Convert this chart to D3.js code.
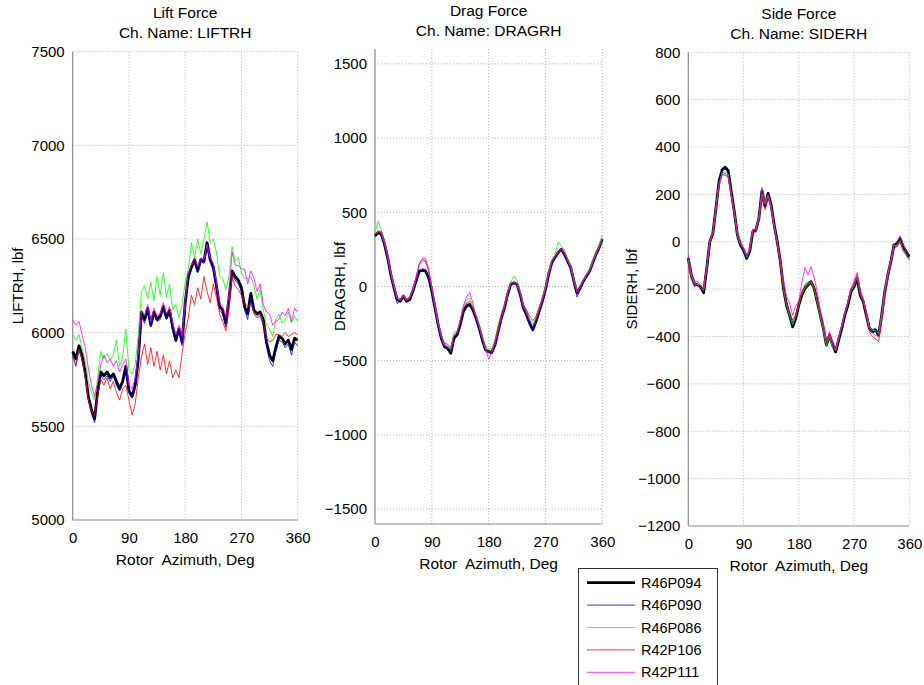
<!DOCTYPE html>
<html>
<head>
<meta charset="utf-8">
<script src="https://cdn.jsdelivr.net/npm/d3@7"></script>
<style>
  html, body { margin: 0; padding: 0; background: #fff; }
  svg { display: block; font-family: "Liberation Sans", Arial, Helvetica, sans-serif; }
</style>
</head>
<body>
<svg id="chart" width="924" height="685"></svg>
<script>
// ---------------- DATA ----------------
const azimuth = d3.range(0, 361, 5);
const xTicks = [0, 90, 180, 270, 360];
const seriesNames = ["R46P094", "R46P090", "R46P086", "R42P106", "R42P111"];
const seriesColors = ["#000000", "#0000ff", "#00ff00", "#ff0000", "#ff00ff"];

const liftTicks = [5000, 5500, 6000, 6500, 7000, 7500];
const dragTicks = [-1500, -1000, -500, 0, 500, 1000, 1500];
const sideTicks = [-1200, -1000, -800, -600, -400, -200, 0, 200, 400, 600, 800];

const liftR46P094 = [5900,5860,5930,5880,5790,5660,5590,5540,5690,5790,
5770,5790,5760,5780,5740,5700,5740,5820,5690,5660,
5720,5860,6110,6070,6130,6040,6110,6070,6090,6140,
6080,6120,6030,5960,6020,5950,6160,6300,6350,6390,
6330,6390,6380,6480,6390,6350,6250,6140,6120,6050,
6180,6330,6300,6280,6240,6140,6100,6210,6120,6100,
6110,6070,5950,5880,5850,5920,5980,5970,5940,5960,
5910,5970,5960];
const liftR46P090 = [5880,5820,5910,5860,5770,5640,5570,5520,5670,5770,
5750,5770,5740,5770,5720,5690,5730,5800,5680,5650,
5700,5840,6090,6050,6120,6030,6100,6060,6070,6120,
6070,6100,6010,5950,6010,5930,6140,6280,6340,6370,
6320,6380,6370,6470,6380,6330,6230,6120,6100,6030,
6160,6310,6280,6260,6220,6120,6070,6190,6100,6080,
6090,6040,5930,5850,5820,5900,5960,5950,5920,5940,
5880,5950,5930];
const liftR46P086 = [5990,5960,5990,5920,5850,5740,5680,5640,5760,5900,
5860,5890,5850,5880,5960,5820,5870,6020,5800,5780,
5830,5990,6220,6250,6180,6270,6170,6300,6200,6320,
6190,6260,6120,6150,6080,6150,6270,6340,6480,6400,
6500,6420,6500,6590,6480,6500,6430,6300,6290,6230,
6300,6460,6380,6400,6320,6290,6290,6300,6250,6180,
6230,6120,6040,6020,5980,6070,6100,6050,6070,6110,
6050,6090,6060];
const liftR42P106 = [5870,5830,5910,5850,5760,5650,5580,5560,5660,5750,
5720,5760,5700,5740,5680,5640,5700,5720,5640,5560,
5620,5760,5870,5940,5830,5920,5820,5900,5800,5880,
5780,5850,5760,5800,5760,5890,6000,6080,6200,6150,
6240,6180,6300,6220,6160,6260,6190,6100,6060,6010,
6120,6300,6250,6230,6200,6160,6140,6150,6110,6090,
6100,6060,5970,5950,5960,5990,5990,5980,6000,5980,
5990,6000,5990];
const liftR42P111 = [6070,6040,6060,5990,5920,5810,5720,5660,5730,5830,
5880,5840,5860,5820,5850,5790,5830,5860,5720,5700,
5760,5890,6120,6090,6150,6060,6130,6090,6100,6160,
6100,6140,6050,5990,6040,5980,6180,6320,6360,6400,
6350,6400,6390,6470,6400,6370,6270,6160,6140,6080,
6200,6430,6360,6360,6340,6340,6260,6330,6290,6220,
6260,6150,6110,6100,6040,6060,6070,6110,6090,6130,
6060,6130,6110];

const dragR46P094 = [342,364,353,285,195,81,-9,-88,-100,-66,
-100,-88,-32,36,104,109,104,59,-32,-145,
-258,-348,-405,-416,-450,-348,-326,-258,-167,-133,
-122,-156,-213,-280,-360,-427,-439,-445,-394,-303,
-213,-145,-54,14,25,14,-54,-145,-190,-247,
-292,-235,-167,-100,-20,81,161,195,228,251,
217,172,127,36,-43,-9,36,70,104,161,
217,262,319];
const dragR46P090 = [330,355,345,270,180,70,-20,-115,-95,-75,
-95,-80,-40,30,95,120,115,60,-40,-150,
-265,-360,-415,-420,-440,-360,-330,-250,-160,-120,
-115,-150,-215,-290,-370,-430,-445,-440,-400,-310,
-220,-150,-60,5,20,10,-60,-160,-200,-260,
-300,-240,-170,-105,-25,75,155,190,225,245,
210,165,115,20,-70,-25,30,65,100,155,
210,255,310];
const dragR46P086 = [360,440,380,300,210,95,0,-80,-90,-60,
-90,-75,-20,60,140,170,175,110,-10,-130,
-250,-330,-390,-400,-420,-310,-300,-220,-130,-90,
-80,-130,-190,-250,-330,-400,-420,-420,-360,-260,
-180,-120,-40,30,70,40,-30,-120,-160,-220,
-250,-210,-140,-80,0,100,180,215,300,270,
250,185,140,50,-20,10,45,80,120,180,
230,280,350];
const dragR42P106 = [350,375,370,310,220,100,10,-70,-85,-55,
-85,-70,-10,60,150,180,170,100,0,-120,
-240,-330,-380,-390,-410,-330,-310,-230,-150,-110,
-100,-150,-200,-270,-350,-420,-440,-430,-370,-280,
-200,-130,-40,20,30,0,-40,-120,-160,-200,
-230,-200,-140,-80,-10,90,170,200,230,250,
230,180,130,40,-30,0,40,75,110,165,
220,270,320];
const dragR42P111 = [345,370,360,290,200,90,0,-80,-95,-60,
-95,-75,-20,60,150,190,190,120,0,-130,
-250,-340,-400,-405,-430,-330,-310,-230,-130,-70,
-40,-110,-200,-270,-350,-420,-490,-440,-380,-300,
-210,-140,-50,15,30,20,-50,-140,-180,-230,
-270,-220,-160,-90,-15,85,170,200,240,255,
225,175,130,40,-40,-5,40,75,105,165,
220,265,325];

const sideR46P094 = [-70,-141,-176,-183,-190,-215,-113,0,35,141,
254,303,315,300,211,127,28,-14,-35,-70,
-42,42,49,99,215,150,204,155,70,0,
-84,-197,-267,-310,-359,-324,-267,-225,-197,-183,
-169,-197,-253,-310,-366,-436,-394,-436,-465,-415,
-366,-310,-267,-211,-190,-155,-225,-253,-310,-366,
-380,-373,-394,-310,-211,-141,-84,-14,-7,14,
-21,-42,-63];
const sideR46P090 = [-80,-150,-190,-180,-200,-210,-120,-5,30,140,
250,300,310,290,200,120,20,-20,-45,-75,
-45,40,45,95,205,145,200,150,60,-10,
-95,-205,-275,-320,-345,-320,-260,-215,-190,-175,
-165,-195,-250,-300,-360,-425,-390,-420,-450,-400,
-355,-300,-255,-210,-185,-150,-215,-250,-300,-360,
-370,-365,-385,-300,-205,-140,-80,-20,-20,0,
-40,-55,-75];
const sideR46P086 = [-75,-145,-175,-180,-195,-205,-110,5,40,145,
245,290,295,285,205,120,25,-10,-30,-65,
-35,50,55,100,200,160,195,150,65,-5,
-90,-200,-265,-310,-350,-315,-265,-220,-195,-180,
-170,-200,-255,-315,-375,-440,-400,-445,-460,-410,
-355,-305,-260,-205,-185,-150,-220,-250,-305,-360,
-375,-375,-390,-305,-205,-135,-80,-15,-15,5,
-35,-60,-80];
const sideR42P106 = [-90,-160,-185,-175,-195,-200,-120,-10,25,130,
240,285,280,275,200,125,35,-5,-30,-60,
-40,45,40,90,190,135,185,140,55,-10,
-90,-190,-255,-300,-330,-310,-260,-215,-180,-170,
-165,-190,-245,-300,-355,-430,-385,-430,-455,-410,
-360,-305,-255,-200,-180,-140,-215,-250,-310,-380,
-400,-410,-420,-340,-240,-160,-95,-30,-20,5,
-30,-50,-70];
const sideR42P111 = [-55,-135,-170,-165,-185,-195,-105,5,40,140,
245,280,290,270,195,125,40,5,-25,-55,
-30,55,50,105,230,170,200,145,65,0,
-75,-160,-230,-260,-310,-270,-250,-170,-110,-140,
-105,-150,-210,-290,-340,-420,-380,-425,-455,-400,
-355,-300,-250,-195,-165,-130,-200,-240,-300,-370,
-385,-395,-400,-320,-215,-140,-80,-10,0,25,
-10,-40,-55];

// ---------------- LAYOUT ----------------
const panels = [
  { title: "Lift Force", sub: "Ch. Name: LIFTRH", ylabel: "LIFTRH, lbf",
    left: 72.7, right: 297.7, top: 51.7, bottom: 520, ydom: [5000, 7500], ticks: liftTicks, ylabOff: 50,
    series: [liftR46P094, liftR46P090, liftR46P086, liftR42P106, liftR42P111] },
  { title: "Drag Force", sub: "Ch. Name: DRAGRH", ylabel: "DRAGRH, lbf",
    left: 375, right: 602.3, top: 49, bottom: 524, ydom: [-1600, 1600], ticks: dragTicks, ylabOff: 30,
    series: [dragR46P094, dragR46P090, dragR46P086, dragR42P106, dragR42P111] },
  { title: "Side Force", sub: "Ch. Name: SIDERH", ylabel: "SIDERH, lbf",
    left: 688.3, right: 909.3, top: 52.3, bottom: 526, ydom: [-1200, 800], ticks: sideTicks, ylabOff: 51.5,
    series: [sideR46P094, sideR46P090, sideR46P086, sideR42P106, sideR42P111] }
];
const widths = [2.8, 0.8, 0.8, 0.8, 0.8];
const FS = 15;

const svg = d3.select("#chart");
svg.append("rect").attr("width", 924).attr("height", 685).attr("fill", "#fff");

panels.forEach(p => {
  const x = d3.scaleLinear().domain([0, 360]).range([p.left, p.right]);
  const y = d3.scaleLinear().domain(p.ydom).range([p.bottom, p.top]);
  const g = svg.append("g");

  g.selectAll(".vg").data(xTicks.filter(t => t > 0)).enter().append("line")
    .attr("x1", d => x(d)).attr("x2", d => x(d)).attr("y1", p.top).attr("y2", p.bottom)
    .attr("stroke", "#b4b4b4").attr("stroke-width", 1).attr("stroke-dasharray", "1,2");
  g.selectAll(".hg").data(p.ticks.filter(t => t > p.ydom[0])).enter().append("line")
    .attr("x1", p.left).attr("x2", p.right).attr("y1", d => y(d)).attr("y2", d => y(d))
    .attr("stroke", "#b4b4b4").attr("stroke-width", 1).attr("stroke-dasharray", "1,2");

  const xAxis = d3.axisBottom(x).tickValues(xTicks).tickSize(0).tickPadding(12);
  const gx = g.append("g").attr("transform", `translate(0,${p.bottom})`).call(xAxis);
  const yAxis = d3.axisLeft(y).tickValues(p.ticks).tickSize(0).tickPadding(8).tickFormat(d3.format("d"));
  const gy = g.append("g").attr("transform", `translate(${p.left},0)`).call(yAxis);
  [gx, gy].forEach(a => {
    a.select(".domain").attr("stroke", "#8a8a8a").attr("stroke-width", 1.2);
    a.selectAll("text").attr("font-size", FS).attr("fill", "#000")
      .attr("font-family", '"Liberation Sans", Arial, sans-serif');
  });
  gy.select(".domain").attr("d", `M0,${p.top}V${p.bottom}`);
  gx.select(".domain").attr("d", `M${p.left},0H${p.right}`);

  const line = d3.line().x((d, i) => x(azimuth[i])).y(d => y(d));
  [0, 1, 2, 3, 4].forEach(k => {
    g.append("path").datum(p.series[k]).attr("d", line)
      .attr("fill", "none").attr("stroke", seriesColors[k])
      .attr("stroke-width", widths[k]).attr("stroke-linejoin", "round");
  });

  const cx = (p.left + p.right) / 2;
  g.append("text").attr("x", cx).attr("y", p.top - 33.5).attr("text-anchor", "middle")
    .attr("font-size", 15.5).text(p.title);
  g.append("text").attr("x", cx).attr("y", p.top - 13.5).attr("text-anchor", "middle")
    .attr("font-size", 15.5).text(p.sub);
  g.append("text").attr("x", cx).attr("y", p.bottom + 45).attr("text-anchor", "middle")
    .attr("font-size", 15.5).style("white-space", "pre").text("Rotor  Azimuth, Deg");
  g.append("text").attr("transform", `translate(${p.left - p.ylabOff},${(p.top + p.bottom) / 2}) rotate(-90)`)
    .attr("text-anchor", "middle").attr("font-size", FS).text(p.ylabel);
});

const lg = svg.append("g");
lg.append("rect").attr("x", 578.5).attr("y", 568.5).attr("width", 139).attr("height", 130)
  .attr("fill", "#fff").attr("stroke", "#333").attr("stroke-width", 1);
seriesNames.forEach((name, k) => {
  const yy = 582.7 + k * 22.4;
  lg.append("line").attr("x1", 587).attr("x2", 635).attr("y1", yy).attr("y2", yy)
    .attr("stroke", seriesColors[k]).attr("stroke-width", k === 0 ? 2.8 : 0.8);
  lg.append("text").attr("x", 641).attr("y", yy + 5).attr("font-size", 14.5).text(name);
});
</script>
</body>
</html>
